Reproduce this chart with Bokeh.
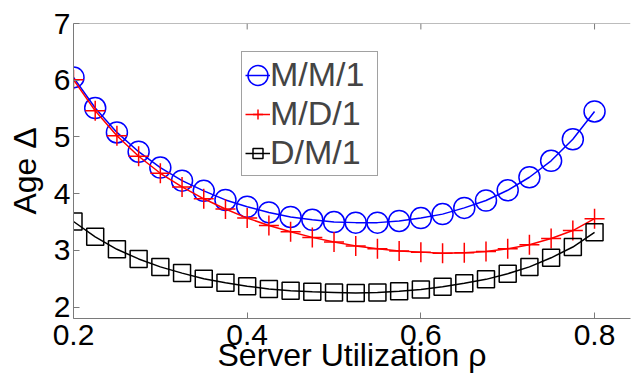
from bokeh.plotting import figure
from bokeh.models import LinearAxis, FixedTicker, Range1d, Legend, LegendItem, Span
from bokeh.embed import file_html
from bokeh.resources import INLINE

# Server utilization rho
rho = [0.200, 0.225, 0.250, 0.275, 0.300, 0.325, 0.350, 0.375, 0.400, 0.425,
       0.450, 0.475, 0.500, 0.525, 0.550, 0.575, 0.600, 0.625, 0.650, 0.675,
       0.700, 0.725, 0.750, 0.775, 0.800]

# Age Delta
age_mm1 = [6.05, 5.51, 5.08, 4.74, 4.46, 4.23, 4.05, 3.89, 3.77, 3.67,
           3.59, 3.54, 3.50, 3.49, 3.49, 3.52, 3.57, 3.64, 3.75, 3.88,
           4.06, 4.29, 4.58, 4.96, 5.45]
age_md1 = [6.01, 5.46, 5.02, 4.66, 4.36, 4.12, 3.91, 3.73, 3.57, 3.44,
           3.33, 3.23, 3.15, 3.08, 3.03, 2.99, 2.97, 2.95, 2.96, 2.98,
           3.03, 3.10, 3.21, 3.35, 3.56]
age_dm1 = [3.51, 3.24, 3.02, 2.85, 2.71, 2.60, 2.50, 2.43, 2.37, 2.32,
           2.29, 2.27, 2.26, 2.25, 2.26, 2.28, 2.31, 2.36, 2.42, 2.49,
           2.59, 2.71, 2.87, 3.06, 3.32]

series_names = ["M/M/1", "M/D/1", "D/M/1"]
x_ticks = [0.2, 0.4, 0.6, 0.8]
y_ticks = [2, 3, 4, 5, 6, 7]
Y_TOP = 7.0

FONT = "Liberation Sans"
AXIS_GRAY = "#7a7a7a"

p = figure(width=631, height=383, output_backend="svg", toolbar_location=None,
           x_range=Range1d(0.2, 0.8414), y_range=Range1d(1.8, Y_TOP),
           x_axis_location=None, y_axis_location=None,
           min_border_left=73, min_border_right=1, min_border_top=23,
           min_border_bottom=65)
p.grid.visible = False
p.outline_line_color = None
p.background_fill_color = "white"
p.border_fill_color = "white"


def style_axis(ax):
    ax.axis_line_color = AXIS_GRAY
    ax.axis_line_width = 1
    ax.major_tick_line_color = AXIS_GRAY
    ax.major_tick_in = 6
    ax.major_tick_out = 0
    ax.minor_tick_line_color = None
    ax.major_label_text_font = FONT
    ax.major_label_text_color = "black"
    ax.major_label_text_font_size = "30px"
    ax.axis_label_text_font = FONT
    ax.axis_label_text_font_style = "normal"
    ax.axis_label_text_color = "black"
    ax.axis_label_text_font_size = "32px"


xaxis = LinearAxis(ticker=FixedTicker(ticks=x_ticks), axis_label="Server Utilization ρ")
style_axis(xaxis)
xaxis.major_label_standoff = 6
xaxis.axis_label_standoff = -11
p.add_layout(xaxis, "below")

yaxis = LinearAxis(ticker=FixedTicker(ticks=y_ticks), axis_label="Age Δ")
style_axis(yaxis)
yaxis.major_label_standoff = 3
yaxis.axis_label_standoff = 8
p.add_layout(yaxis, "left")

# top box edge with inward ticks (MATLAB style box)
p.add_layout(Span(location=Y_TOP, dimension="width", line_color=AXIS_GRAY, line_width=1))
p.segment(x0=x_ticks, y0=[Y_TOP] * len(x_ticks), x1=x_ticks,
          y1=[Y_TOP - 0.105] * len(x_ticks), line_color=AXIS_GRAY, line_width=1)

LW = 1.5
BLUE = "#0000ff"
RED = "#ff0000"
l1 = p.line(rho, age_mm1, line_color=BLUE, line_width=LW)
s1 = p.ellipse(x=rho, y=age_mm1, width=21, height=21, width_units="screen",
               height_units="screen", fill_color=None, line_color=BLUE, line_width=LW)
l2 = p.line(rho, age_md1, line_color=RED, line_width=LW)
s2 = p.scatter(rho, age_md1, marker="cross", size=20, line_color=RED, line_width=LW)
l3 = p.line(rho, age_dm1, line_color="black", line_width=LW)
s3 = p.scatter(rho, age_dm1, marker="square", size=17, fill_color=None,
               line_color="black", line_width=LW)

legend = Legend(items=[
    LegendItem(label=series_names[0], renderers=[l1, s1]),
    LegendItem(label=series_names[1], renderers=[l2, s2]),
    LegendItem(label=series_names[2], renderers=[l3, s3]),
], location=(168, 142))
legend.label_text_font = FONT
legend.label_text_font_size = "34px"
legend.label_standoff = 0
legend.label_width = 104
legend.glyph_width = 25
legend.glyph_height = 38
legend.padding = 3
legend.spacing = 0
legend.margin = 0
legend.border_line_color = "#444444"
legend.border_line_width = 1
legend.background_fill_alpha = 1
p.add_layout(legend, "center")

open("out.html", "w").write(file_html(p, INLINE))
